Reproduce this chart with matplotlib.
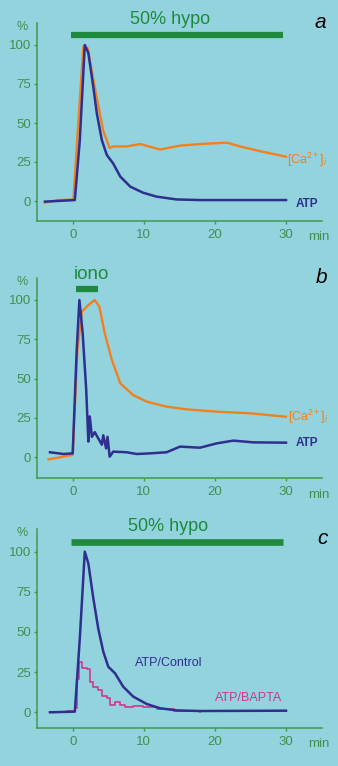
import matplotlib
matplotlib.use('Agg')
import matplotlib.pyplot as plt

plt.rcParams['font.family'] = ['Liberation Sans', 'DejaVu Sans']
plt.rcParams['mathtext.fontset'] = 'custom'
plt.rcParams['mathtext.rm'] = 'Liberation Sans'
plt.rcParams['mathtext.it'] = 'Liberation Sans:italic'

BG = '#93d3de'
GREEN_BAR = '#1f8a3e'
AXIS = '#3f9a4a'
BLUE = '#2e2f8e'
ORANGE = '#f2801e'
MAGENTA = '#d2358e'

# ---- panel a: 50% hypo ----
a_atp_t = [-3.9, 0.3, 1.0, 1.7, 2.2, 2.9, 3.4, 4.1, 4.8, 5.7, 6.7, 8.1, 9.9, 11.8, 14.6, 17.9, 30]
a_atp_v = [-0.4, 0.6, 39, 100, 95, 73, 56, 39, 29.5, 24, 15.6, 9.2, 5.3, 2.8, 1.0, 0.6, 0.6]
a_ca_t = [-3.9, -2.0, 0.1, 1.0, 1.5, 2.1, 3.1, 4.3, 5.2, 5.7, 7.6, 9.5, 12.3, 15.1, 17.9, 21.7, 23.5, 26.3, 30]
a_ca_v = [-1, 0.6, 1, 65, 99, 98, 73, 45, 34, 35, 35, 36.5, 33, 35.5, 36.5, 37.4, 35, 32, 28.4]

# ---- panel b: ionomycin ----
b_atp_t = [-3.2, -1.3, 0, 0.56, 0.94, 1.4, 1.9, 2.2, 2.4, 2.7, 3.1, 3.6, 4.1, 4.3, 4.7, 4.9, 5.2, 5.7,
           7.6, 9.0, 10.9, 13.2, 15.1, 17.9, 20.3, 22.6, 25.4, 30]
b_atp_v = [3.2, 2.1, 2.5, 68, 100, 79, 43, 10, 26, 13, 16, 12, 8, 14, 5.7, 13, 0.4, 3.6,
           3.2, 2.1, 2.5, 3.2, 6.8, 6.1, 8.9, 10.6, 9.5, 9.3]
b_ca_t = [-3.4, 0, 0.66, 1.3, 2.2, 3.1, 3.75, 4.5, 5.5, 6.7, 8.5, 10.4, 13.2, 16.0, 20.3, 24.9, 30]
b_ca_v = [-1.3, 1.5, 68, 92.6, 96.8, 100, 95.8, 79, 62, 47, 39.6, 35.4, 32.2, 30.5, 29, 28, 25.8]

# ---- panel c: control vs BAPTA ----
c_ctl_t = [-3.2, 0.3, 1.0, 1.7, 2.2, 2.9, 3.6, 4.3, 5.0, 5.95, 7.1, 8.5, 10.4, 12.3, 14.6, 17.9, 30]
c_ctl_v = [0, 0.4, 46, 100, 92.7, 71, 52, 37.8, 28.4, 24.3, 16, 9.8, 5.2, 2.5, 1.2, 0.8, 1.0]
c_bap_t = [-3.2, -0.8, 0.3, 0.66, 0.94, 1.27, 2.0, 2.4, 2.9, 3.6, 4.1, 4.8, 5.25, 5.95, 6.7, 7.4,
           8.5, 9.9, 11.8, 14.2, 17.9]
c_bap_v = [0, 0.8, 2.5, 21, 31.5, 27.4, 27, 19, 16, 14, 10.4, 8.7, 4.6, 6.6, 4.6, 3.1,
           3.9, 3.1, 1.9, 0.8, 0.4]

xticks = [0, 10, 20, 30]
yticks = [0, 25, 50, 75, 100]

W, H = 338, 766
fig = plt.figure(figsize=(W / 100, H / 100), dpi=100, facecolor=BG)

X0, X30 = 72.7, 286.0
XS = (X30 - X0) / 30
XL, XR = 36.5, 322.0
YMAX = 118


def make_axes(zero_px, hundred_px, bottom_px):
    s = (zero_px - hundred_px) / 100.0
    ymin = -(bottom_px - zero_px) / s
    top_px = zero_px - YMAX * s
    ax = fig.add_axes([XL / W, (H - bottom_px) / H, (XR - XL) / W, (bottom_px - top_px) / H])
    ax.set_facecolor('none')
    ax.set_xlim((XL - X0) / XS, (XR - X0) / XS)
    ax.set_ylim(ymin, YMAX)
    for side in ['top', 'right']:
        ax.spines[side].set_visible(False)
    for side in ['left', 'bottom']:
        ax.spines[side].set_color(AXIS)
        ax.spines[side].set_linewidth(1.1)
    ax.spines['left'].set_bounds(ymin, 114)
    ax.set_xticks(xticks)
    ax.set_yticks(yticks)
    ax.tick_params(colors=AXIS, labelcolor='#3f9050', labelsize=9.5, length=2.5, width=1.0)
    ax.tick_params(axis='x', pad=3.5)
    ax.tick_params(axis='y', pad=1.5)
    ax.text(-0.05, 0.95, '%', transform=ax.transAxes, color='#3f9050', fontsize=9,
            ha='center', va='center')
    ax.text(0.99, -0.08, 'min', transform=ax.transAxes, color='#3f9050', fontsize=9.5,
            ha='center', va='center')
    return ax


# panel a
ax = make_axes(201.0, 45.0, 220.7)
ax.plot([-0.2, 29.6], [106.7, 106.7], color=GREEN_BAR, lw=4.5, solid_capstyle='butt', clip_on=False)
ax.text(13.7, 116.5, '50% hypo', color=GREEN_BAR, fontsize=13, ha='center', va='center')
ax.text(34.8, 114.7, 'a', style='italic', fontsize=15, ha='center', va='center')
ax.plot(a_ca_t, a_ca_v, color=ORANGE, lw=1.7)
ax.plot(a_atp_t, a_atp_v, color=BLUE, lw=1.8)
ax.text(33.0, 26.3, r'[Ca$^{2+}$]$_i$', color=ORANGE, fontsize=9, ha='center', va='center')
ax.text(33.0, -2.0, 'ATP', color=BLUE, fontsize=8.5, weight='bold', ha='center', va='center')

# panel b
ax = make_axes(457.3, 300.0, 478.0)
ax.plot([0.5, 3.5], [107, 107], color=GREEN_BAR, lw=4.5, solid_capstyle='butt', clip_on=False)
ax.text(2.7, 116.5, 'iono', color=GREEN_BAR, fontsize=13.5, ha='center', va='center')
ax.text(35.0, 114.0, 'b', style='italic', fontsize=15, ha='center', va='center')
ax.plot(b_ca_t, b_ca_v, color=ORANGE, lw=1.7)
ax.plot(b_atp_t, b_atp_v, color=BLUE, lw=1.8)
ax.text(33.2, 25.8, r'[Ca$^{2+}$]$_i$', color=ORANGE, fontsize=9, ha='center', va='center')
ax.text(33.0, 9.3, 'ATP', color=BLUE, fontsize=8.5, weight='bold', ha='center', va='center')

# panel c
ax = make_axes(712.3, 551.7, 727.7)
ax.plot([-0.2, 29.6], [106, 106], color=GREEN_BAR, lw=4.8, solid_capstyle='butt', clip_on=False)
ax.text(13.4, 115.6, '50% hypo', color=GREEN_BAR, fontsize=13, ha='center', va='center')
ax.text(35.2, 108.5, 'c', style='italic', fontsize=15, ha='center', va='center')
ax.plot(c_bap_t, c_bap_v, color=MAGENTA, lw=1.2, drawstyle='steps-post')
ax.plot(c_ctl_t, c_ctl_v, color=BLUE, lw=1.8)
ax.text(13.5, 30.7, 'ATP/Control', color=BLUE, fontsize=9, ha='center', va='center')
ax.text(24.7, 8.9, 'ATP/BAPTA', color=MAGENTA, fontsize=9, ha='center', va='center')

fig.savefig('out.png', dpi=100, facecolor=BG)
